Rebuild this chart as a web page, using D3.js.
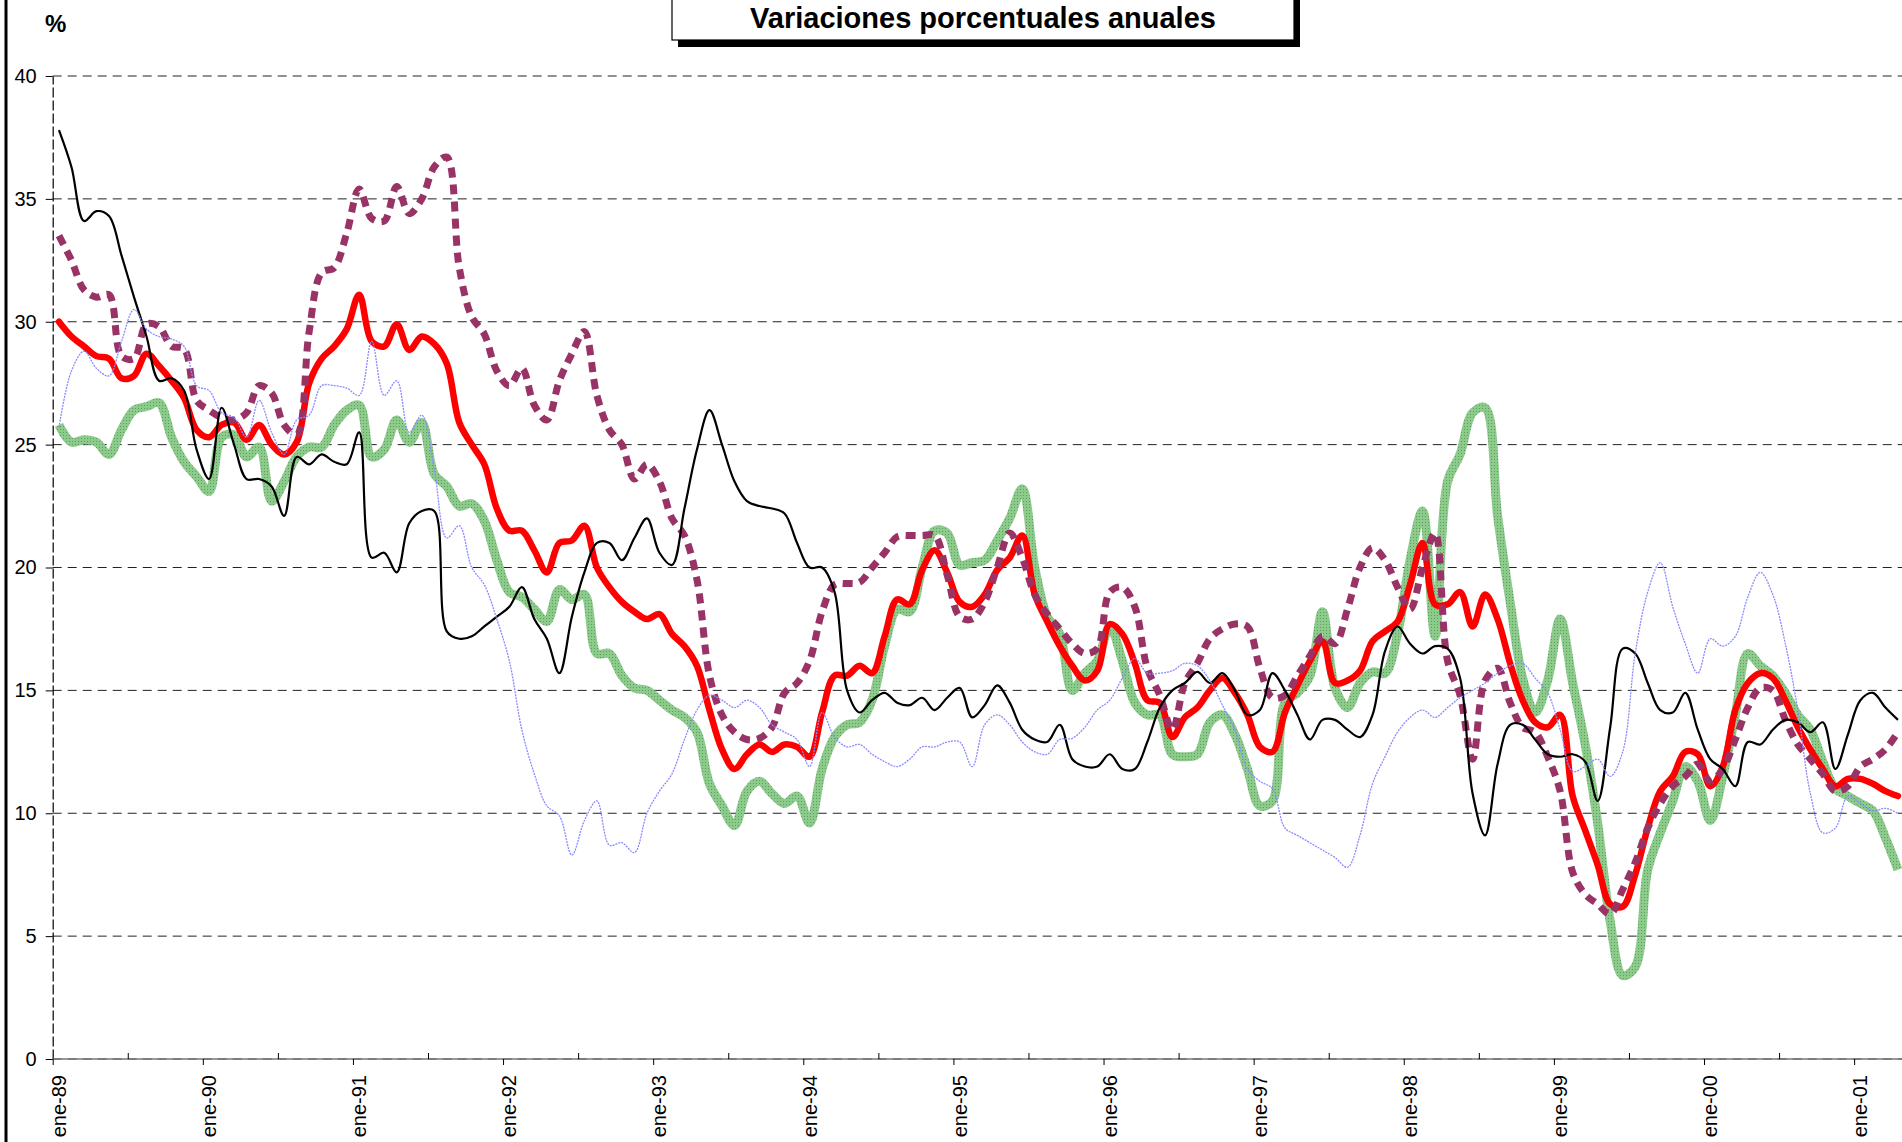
<!DOCTYPE html>
<html>
<head>
<meta charset="utf-8">
<script src="https://cdn.jsdelivr.net/npm/d3@7/dist/d3.min.js"></script>
<style>
  body { margin: 0; background: #fff; }
  svg { display: block; font-family: "Liberation Sans", Arial, sans-serif; }
</style>
</head>
<body>
<div id="chart"></div>
<script>
// categorias mensuales ene-89 ... abr-01
const meses = ["ene", "feb", "mar", "abr", "may", "jun", "jul", "ago", "sep", "oct", "nov", "dic"];
const anios = ["89", "90", "91", "92", "93", "94", "95", "96", "97", "98", "99", "00", "01"];
const categorias = [];
anios.forEach((a) => meses.forEach((m) => categorias.push(m + "-" + a)));
categorias.length = 148;

const yTicks = [0, 5, 10, 15, 20, 25, 30, 35, 40];

// series (una fila por anio)
const serieNegra = [
  37.8, 36.3, 34.1, 34.5, 34.3, 32.7, 31.0, 29.4, 27.6, 27.7, 27.2, 24.8,
  23.6, 26.5, 25.0, 23.6, 23.6, 23.3, 22.1, 24.5, 24.2, 24.6, 24.3, 24.2,
  25.5, 20.4, 20.6, 19.8, 21.8, 22.3, 22.3, 17.4, 17.1, 17.2, 17.6, 18.0,
  18.4, 19.2, 17.9, 17.1, 15.7, 18.0, 19.8, 21.0, 21.0, 20.3, 21.2, 22.0,
  20.6, 20.1, 22.4, 24.8, 26.4, 25.0, 23.5, 22.7, 22.5, 22.4, 22.2, 21.0,
  20.0, 20.0, 19.0, 15.0, 14.1, 14.6, 14.9, 14.5, 14.4, 14.7, 14.2, 14.7,
  15.1, 13.9, 14.4, 15.2, 14.5, 13.4, 13.0, 12.9, 13.6, 12.2, 11.9, 11.9,
  12.4, 11.8, 11.8, 12.9, 14.3, 15.0, 15.3, 15.75, 15.3, 15.7, 15.0, 14.0,
  14.2, 15.7, 15.0, 14.0, 13.0, 13.8, 13.8, 13.4, 13.1, 14.0, 16.6, 17.6,
  16.9, 16.5, 16.8, 16.7, 15.5, 10.8, 9.1, 12.0, 13.6, 13.6, 13.0, 12.4,
  12.3, 12.4, 12.1, 10.5, 13.5, 16.7, 16.5, 15.3, 14.2, 14.1, 14.9, 13.4,
  12.2, 11.8, 11.1, 12.9, 12.8, 13.4, 13.8, 13.7, 13.3, 13.7, 11.8, 13.2,
  14.6, 14.9, 14.3, 13.8
];

const serieRoja = [
  30.0, 29.4, 29.0, 28.6, 28.5, 27.7, 27.8, 28.7, 28.2, 27.6, 26.9, 25.6,
  25.3, 25.8, 25.9, 25.2, 25.8, 25.0, 24.6, 25.1, 27.5, 28.5, 29.0, 29.7,
  31.1, 29.2, 29.0, 29.9, 28.85, 29.4, 29.1, 28.3, 25.9, 25.0, 24.2, 22.4,
  21.5, 21.5, 20.7, 19.8, 21.0, 21.1, 21.7, 20.0, 19.2, 18.6, 18.2, 17.9,
  18.1, 17.3, 16.8, 16.0, 14.2, 12.6, 11.8, 12.4, 12.8, 12.5, 12.8, 12.7,
  12.3, 14.1, 15.6, 15.6, 16.0, 15.7, 17.2, 18.7, 18.5, 19.9, 20.7, 19.8,
  18.6, 18.4, 18.9, 19.9, 20.4, 21.3, 18.9, 17.8, 16.8, 16.0, 15.4, 15.8,
  17.7, 17.3, 16.1, 14.6, 14.5, 13.1, 13.9, 14.3, 15.0, 15.5, 14.9, 14.0,
  12.7, 12.5, 14.1, 15.2, 16.2, 17.0, 15.3, 15.4, 15.8, 17.0, 17.4, 17.8,
  19.3, 21.0, 18.5, 18.5, 19.0, 17.6, 18.9, 17.9, 16.1, 14.6, 13.7, 13.5,
  14.0, 10.7, 9.3, 7.9, 6.3, 6.2, 7.5, 9.4, 10.9, 11.5, 12.5, 12.4,
  11.1, 11.9, 14.2, 15.3, 15.7, 15.5, 14.6, 13.5, 12.6, 11.8, 11.1, 11.4,
  11.4, 11.2, 10.9, 10.7
];

const serieMorada = [
  33.5, 32.5, 31.3, 31.0, 31.1, 28.6, 28.5, 29.9, 29.8, 29.0, 28.9, 26.8,
  26.4, 26.1, 26.0, 26.3, 27.4, 27.1, 25.8, 25.4, 29.6, 32.0, 32.2, 33.6,
  35.4, 34.2, 34.1, 35.5, 34.4, 35.0, 36.3, 36.7, 32.2, 30.2, 29.5, 28.0,
  27.4, 28.1, 26.6, 26.0, 27.6, 28.7, 29.6, 27.0, 25.6, 25.0, 23.6, 24.2,
  23.5, 22.0, 21.3, 19.5, 15.6, 14.0, 13.3, 13.0, 13.05, 13.5, 14.9, 15.3,
  16.2, 18.2, 19.3, 19.35, 19.4, 20.0, 20.6, 21.25, 21.3, 21.3, 21.3, 19.7,
  18.0, 17.9, 18.6, 20.0, 21.4, 20.4, 18.9, 18.1, 17.5, 16.9, 16.5, 16.7,
  19.0, 19.2, 18.4, 15.9, 14.8, 13.4, 15.3, 16.1, 17.1, 17.5, 17.7, 17.6,
  15.9, 14.7, 14.8, 15.6, 16.4, 17.2, 16.9, 18.3, 20.0, 20.8, 20.3, 19.2,
  18.3, 20.0, 21.4, 16.2, 14.8, 12.2, 15.4, 15.9, 14.5, 13.5, 13.3, 12.3,
  10.9, 7.6, 6.7, 6.3, 5.9, 6.9, 8.0, 9.4, 10.4, 11.1, 11.5, 12.0,
  11.3, 11.8, 13.0, 14.3, 15.1, 15.0, 13.8, 12.8, 12.2, 11.6, 10.9, 11.1,
  11.9, 12.2, 12.6, 13.3
];

const serieVerde = [
  25.8, 25.1, 25.2, 25.1, 24.6, 25.6, 26.4, 26.55, 26.7, 25.3, 24.3, 23.7,
  23.1, 25.3, 25.4, 24.5, 24.9, 22.7, 23.5, 24.5, 24.9, 24.9, 25.8, 26.4,
  26.6, 24.5, 24.8, 26.0, 25.1, 25.9, 23.8, 23.3, 22.5, 22.6, 21.9, 20.3,
  19.0, 18.8, 18.3, 17.8, 19.1, 18.7, 18.9, 16.5, 16.5, 15.6, 15.1, 15.0,
  14.6, 14.2, 13.9, 13.3, 11.2, 10.3, 9.5, 10.9, 11.3, 10.8, 10.4, 10.7,
  9.6, 11.8, 13.1, 13.6, 13.7, 14.6, 16.8, 18.3, 18.2, 20.0, 21.5, 21.4,
  20.1, 20.2, 20.3, 21.1, 22.0, 23.2, 20.0, 18.0, 17.3, 15.0, 15.7, 16.2,
  17.6, 16.2, 14.5, 14.0, 14.0, 12.4, 12.3, 12.4, 13.7, 14.0, 13.2, 11.8,
  10.3, 10.5, 14.5, 14.9, 15.6, 18.2, 15.1, 14.3, 15.3, 15.75, 15.7, 17.3,
  20.3, 22.3, 17.2, 23.5, 24.6, 26.3, 26.5, 22.1, 18.6, 15.5, 14.1, 15.4,
  17.9, 15.3, 12.8, 9.6, 5.6, 3.4, 3.75, 7.7, 9.2, 10.5, 11.9, 11.3,
  9.7, 11.5, 14.0, 16.5, 16.0, 15.6, 14.9, 14.0, 13.4, 12.1, 11.0, 10.7,
  10.4, 10.1, 9.0, 7.7
];

const serieAzul = [
  25.7, 28.0, 28.8, 28.1, 27.8, 29.2, 30.5, 29.7, 29.4, 29.3, 29.0, 27.4,
  27.2, 26.3, 26.1, 25.3, 26.8, 25.5, 24.6, 26.0, 26.2, 27.4, 27.4, 27.3,
  27.0, 29.2, 27.0, 27.6, 25.5, 26.2, 24.0, 21.2, 21.7, 20.0, 19.3, 17.9,
  16.2, 13.4, 11.6, 10.3, 9.9, 8.3, 9.7, 10.5, 8.7, 8.8, 8.4, 10.0,
  10.9, 11.6, 13.0, 14.2, 14.8, 14.6, 14.3, 14.6, 14.3, 13.6, 13.3, 13.0,
  11.9, 14.1, 13.1, 12.7, 12.8, 12.4, 12.1, 11.9, 12.2, 12.7, 12.7, 12.9,
  12.9, 11.9, 13.6, 14.0, 13.6, 12.9, 12.5, 12.4, 13.0, 13.05, 13.5, 14.2,
  14.6, 15.5, 16.3, 15.7, 15.7, 15.8, 16.1, 16.0, 15.4, 14.4, 13.4, 11.8,
  11.3, 11.0, 9.4, 9.1, 8.8, 8.5, 8.2, 7.8, 9.1, 11.2, 12.3, 13.3,
  13.9, 14.2, 13.9, 14.3, 14.7, 15.0, 15.3, 15.7, 16.0, 16.1, 15.5, 14.9,
  13.4, 11.7, 11.9, 12.2, 11.5, 12.5, 16.5, 19.0, 20.2, 18.4, 16.9, 15.7,
  17.1, 16.8, 17.2, 18.8, 19.8, 18.9, 16.9, 14.2, 10.8, 9.2, 9.4, 10.7,
  10.4, 10.1, 10.2, 10.0
];

const W = 1902, H = 1142;
const plotLeft = 52.7, plotTop = 76, plotBottom = 1059, paso = 12.51;

const svg = d3
  .select("#chart")
  .append("svg")
  .attr("width", W)
  .attr("height", H);

svg.append("rect").attr("width", W).attr("height", H).attr("fill", "#fff");

// textura de la linea verde
const pat = svg
  .append("defs")
  .append("pattern")
  .attr("id", "texVerde")
  .attr("patternUnits", "userSpaceOnUse")
  .attr("width", 3)
  .attr("height", 3);
pat.append("rect").attr("width", 3).attr("height", 3).attr("fill", "#8ccb8c");
pat.append("rect").attr("width", 1).attr("height", 1).attr("fill", "#5c9f5c");

let x = d3
  .scaleBand()
  .domain(categorias)
  .range([plotLeft, plotLeft + categorias.length * paso])
  .padding(0);

let xBorde = d3
  .scaleLinear()
  .domain([0, categorias.length])
  .range([plotLeft, plotLeft + categorias.length * paso]);

let y = d3.scaleLinear().domain([0, 40]).range([plotBottom, plotTop]);

// lineas de division horizontales
svg
  .append("g")
  .selectAll("line")
  .data(yTicks)
  .enter()
  .append("line")
  .attr("x1", plotLeft)
  .attr("x2", W)
  .attr("y1", (d) => y(d))
  .attr("y2", (d) => y(d))
  .attr("stroke", "#222")
  .attr("stroke-width", 1)
  .attr("stroke-dasharray", "9,6");

// eje Y
let ejeY = svg
  .append("g")
  .attr("transform", "translate(" + plotLeft + ",0)")
  .call(d3.axisLeft(y).tickValues(yTicks).tickSize(7).tickSizeOuter(0).tickPadding(9));
ejeY.select(".domain").attr("stroke", "#000").attr("stroke-width", 1.2).attr("stroke-dasharray", "10,3");
ejeY.selectAll(".tick line").attr("stroke", "#000");
ejeY.selectAll("text").style("font-size", "20px").attr("fill", "#000");

// eje X: marcas en enero (hacia abajo) y julio (hacia arriba)
svg
  .append("line")
  .attr("x1", plotLeft)
  .attr("x2", W)
  .attr("y1", plotBottom)
  .attr("y2", plotBottom)
  .attr("stroke", "#777")
  .attr("stroke-width", 1.5);

let ejeX = svg
  .append("g")
  .attr("transform", "translate(0," + plotBottom + ")")
  .call(
    d3.axisBottom(xBorde)
      .tickValues(d3.range(0, categorias.length, 12))
      .tickSize(6)
      .tickFormat("")
  );
ejeX.select(".domain").remove();

let ejeX2 = svg
  .append("g")
  .attr("transform", "translate(0," + plotBottom + ")")
  .call(
    d3.axisTop(xBorde)
      .tickValues(d3.range(6, categorias.length, 12))
      .tickSize(6)
      .tickFormat("")
  );
ejeX2.select(".domain").remove();

// etiquetas del eje X (solo enero)
let etiquetas = svg
  .append("g")
  .attr("transform", "translate(0," + plotBottom + ")")
  .call(
    d3.axisBottom(x)
      .tickValues(categorias.filter((c) => c.startsWith("ene")))
      .tickSize(0)
  );
etiquetas.select(".domain").remove();
etiquetas
  .selectAll("text")
  .style("font-size", "20px")
  .attr("fill", "#000")
  .attr("transform", "rotate(-90)")
  .attr("text-anchor", "end")
  .attr("x", -16)
  .attr("y", 0)
  .attr("dy", "0.35em");

// series
let linea = d3
  .line()
  .x((d, i) => x(categorias[i]) + x.bandwidth() / 2)
  .y((d) => y(d))
  .curve(d3.curveCatmullRom.alpha(0.5));

svg.append("path").datum(serieVerde).attr("d", linea)
  .attr("fill", "none").attr("stroke", "url(#texVerde)").attr("stroke-width", 9)
  .attr("stroke-linejoin", "round");

svg.append("path").datum(serieRoja).attr("d", linea)
  .attr("fill", "none").attr("stroke", "#ff0000").attr("stroke-width", 6.5)
  .attr("stroke-linejoin", "round").attr("stroke-linecap", "round");

svg.append("path").datum(serieMorada).attr("d", linea)
  .attr("fill", "none").attr("stroke", "#993366").attr("stroke-width", 7)
  .attr("stroke-dasharray", "10,7");

svg.append("path").datum(serieNegra).attr("d", linea)
  .attr("fill", "none").attr("stroke", "#000").attr("stroke-width", 2.2)
  .attr("stroke-linejoin", "round");

svg.append("path").datum(serieAzul).attr("d", linea)
  .attr("fill", "none").attr("stroke", "#8a8aff").attr("stroke-width", 1.3)
  .attr("stroke-dasharray", "2,1");

// titulo con sombra
svg.append("rect").attr("x", 678).attr("y", -20).attr("width", 622).attr("height", 67).attr("fill", "#000");
svg.append("rect").attr("x", 672).attr("y", -20).attr("width", 622).attr("height", 60)
  .attr("fill", "#fff").attr("stroke", "#000").attr("stroke-width", 1.2);
svg.append("text")
  .attr("x", 983)
  .attr("y", 28)
  .attr("text-anchor", "middle")
  .style("font-size", "29px")
  .style("font-weight", "bold")
  .text("Variaciones porcentuales anuales");

svg.append("text")
  .attr("x", 45)
  .attr("y", 32)
  .style("font-size", "24px")
  .style("font-weight", "bold")
  .text("%");

// borde izquierdo
svg.append("line").attr("x1", 6).attr("x2", 6).attr("y1", 0).attr("y2", H)
  .attr("stroke", "#000").attr("stroke-width", 3);
</script>
</body>
</html>
